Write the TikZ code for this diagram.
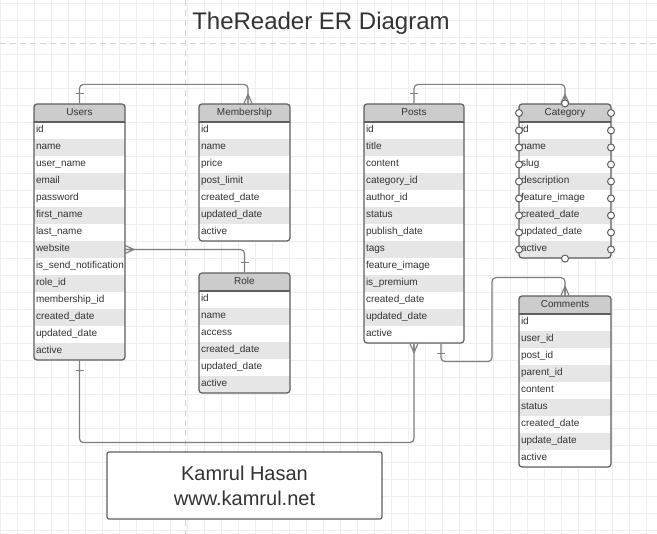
\documentclass[tikz,border=0pt]{standalone}
\usepackage{fontspec}
\setmainfont{Liberation Sans}
\usepackage{tikz}
\usetikzlibrary{positioning,calc,fit}
\usepackage{xcolor}
\definecolor{hdr}{HTML}{CCCCCC}
\definecolor{alt}{HTML}{E6E6E6}
\definecolor{edge}{HTML}{5E5E5E}
\definecolor{ink}{HTML}{333333}
\definecolor{wirec}{HTML}{7F7F7F}
\definecolor{gridc}{HTML}{EEEEEE}
\definecolor{pagec}{HTML}{D2D2D2}

% entity table: name, x, y (top), width, title, number of rows, fields
\newcommand{\entity}[7]{%
  \begin{scope}
    \clip[rounded corners=3] (#2,#3) rectangle ++(#4,18+17*#6);
    \node[enthead, minimum width=#4, anchor=north west] (#1) at (#2,#3) {#5};
    \foreach \fld [count=\idx] in {#7} {
      \ifodd\idx\relax\def\rowfill{white}\else\def\rowfill{alt}\fi
      \node[entrow, fill=\rowfill, minimum width=#4, anchor=north west]
        (#1-\idx) at (#2,#3+1+17*\idx) {\makebox[#4pt][l]{\hspace{2pt}\fld}};
    }
  \end{scope}
  \draw[entframe] (#1.south west) -- (#1.south east);
  \node[entframe, fit=(#1)(#1-#6), inner sep=0pt, rounded corners=3] (#1-box) {};
}

\begin{document}
\begin{tikzpicture}[
    x=1pt, y=-1pt,
    enthead/.style={
        rectangle, fill=hdr, inner sep=0pt, outer sep=0pt, minimum height=18,
        text=ink, font=\fontsize{10}{12}\selectfont, text height=7.5pt, text depth=2.5pt
    },
    entrow/.style={
        rectangle, inner sep=0pt, outer sep=0pt, minimum height=17,
        text=ink, font=\fontsize{10}{12}\selectfont, text height=7.5pt, text depth=2.5pt
    },
    entframe/.style={draw=edge, line width=1.2pt},
    wire/.style={draw=wirec, line width=1.2pt, rounded corners=4pt},
    cpoint/.style={draw=edge, fill=white, line width=1pt},
    gridline/.style={draw=gridc, line width=0.6pt},
    pageline/.style={draw=pagec, line width=1pt, dash pattern=on 6pt off 4pt},
    authorbox/.style={
        rectangle, rounded corners=2pt, draw=edge, line width=1.2pt, fill=white,
        minimum width=275, minimum height=67, align=center,
        text=ink, font=\fontsize{20}{25}\selectfont
    },
    crowfoot/.pic={\draw[wirec, line width=1.2pt] (-4,0) -- (0,-9) -- (4,0) (0,0) -- (0,-9);},
    onebar/.pic={\draw[wirec, line width=1.2pt] (-4,-10) -- (4,-10);}
]

% Background: sheet, grid, page breaks
\useasboundingbox (0,0) rectangle (657,534);
\fill[white] (0,0) rectangle (657,534);
\foreach \gx in {0,17,...,657} {
  \draw[gridline] (\gx,0) -- (\gx,534);
}
\foreach \gy in {3,20,...,534} {
  \draw[gridline] (0,\gy) -- (657,\gy);
}
\draw[pageline] (0,44) -- (657,44);
\draw[pageline] (185.5,0) -- (185.5,534);

\node[text=ink, font=\fontsize{24}{28}\selectfont, anchor=base] (title) at (321,30) {TheReader ER Diagram};

% ── Tables ──────────────────────────────────────────────────
\entity{users}{34}{104}{91}{Users}{14}{id,name,user\_name,email,password,first\_name,last\_name,website,is\_send\_notification,role\_id,membership\_id,created\_date,updated\_date,active}
\entity{membership}{199}{104}{91}{Membership}{7}{id,name,price,post\_limit,created\_date,updated\_date,active}
\entity{role}{199}{273}{91}{Role}{6}{id,name,access,created\_date,updated\_date,active}
\entity{posts}{364}{104}{100}{Posts}{13}{id,title,content,category\_id,author\_id,status,publish\_date,tags,feature\_image,is\_premium,created\_date,updated\_date,active}
\entity{category}{519}{104}{92}{Category}{8}{id,name,slug,description,feature\_image,created\_date,updated\_date,active}
\entity{comments}{519}{296}{92}{Comments}{9}{id,user\_id,post\_id,parent\_id,content,status,created\_date,update\_date,active}

% ── Relations ───────────────────────────────────────────────
% Users -- Membership
\coordinate (m-in) at ([xshift=3.5pt]membership-box.north);
\draw[wire] (users-box.north) -- ++(0,-19) -| (m-in);
\pic at (users-box.north) {onebar};
\pic at (m-in) {crowfoot};

% Posts -- Category
\draw[wire] (posts-box.north) -- ++(0,-19) -| (category-box.north);
\pic at (posts-box.north) {onebar};
\pic at (category-box.north) {crowfoot};

% Users -- Role
\draw[wire] (users-8.east) -| (role-box.north);
\pic[rotate=-90] at (users-8.east) {crowfoot};
\pic at (role-box.north) {onebar};

% Users -- Posts
\draw[wire] (users-box.south) -- ++(0,82) -| (posts-box.south);
\pic[rotate=180] at (users-box.south) {onebar};
\pic[rotate=180] at (posts-box.south) {crowfoot};

% Posts -- Comments
\coordinate (p-out) at ([xshift=27pt]posts-box.south);
\draw[wire] (p-out) -- ++(0,18) -| ++(51,-84) -| (comments-box.north);
\pic[rotate=180] at (p-out) {onebar};
\pic at (comments-box.north) {crowfoot};

% connection points on Category
\foreach \n in {category,category-1,category-2,category-3,category-4,category-5,category-6,category-7,category-8} {
  \draw[cpoint] (\n.west) circle[radius=3.5pt] (\n.east) circle[radius=3.5pt];
}
\draw[cpoint] (category-box.north) circle[radius=3.5pt] (category-box.south) circle[radius=3.5pt];

% ── Author ──────────────────────────────────────────────────
\node[authorbox] (author) at (244.5,485.5) {Kamrul Hasan\\www.kamrul.net};

\end{tikzpicture}
\end{document}
